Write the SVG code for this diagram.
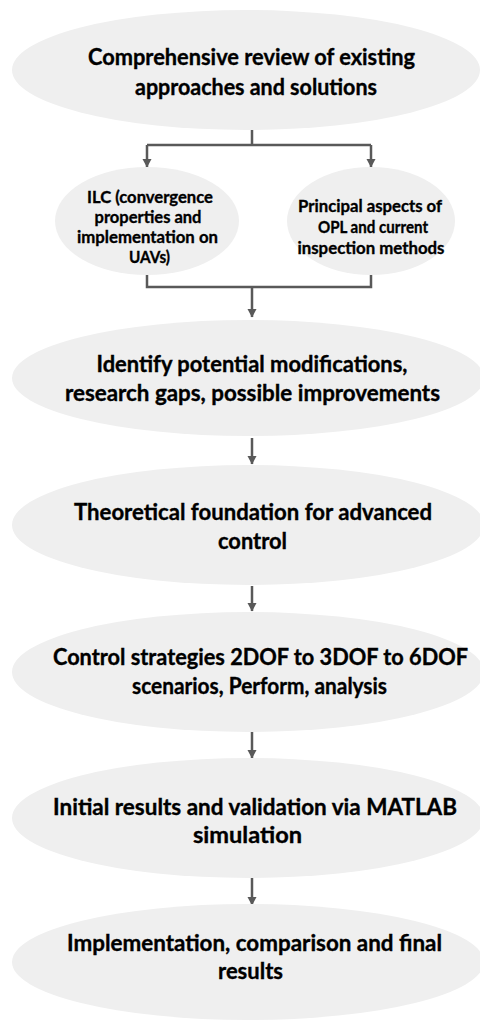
<svg xmlns="http://www.w3.org/2000/svg" width="480" height="1023" viewBox="0 0 480 1023">
<defs>
<marker id="ah" markerWidth="10" markerHeight="10" refX="8" refY="5" orient="auto" markerUnits="userSpaceOnUse">
<path d="M0,0.5 L8.5,5 L0,9.5 Z" fill="#595959"/>
</marker>
<style>
.n{fill:#efefef;}
.t{font-family:Lato,"Liberation Sans",sans-serif;font-weight:bold;fill:#000;stroke:#000;stroke-width:0.35;text-anchor:middle;}
.b{font-size:22px;}
.s{font-size:17px;}
.c{fill:none;stroke:#595959;stroke-width:2.5;}
</style>
</defs>
<rect width="480" height="1023" fill="#fff"/>
<g id="connectors">
<path class="c" d="M252,130 V145 M147,145 H371 M147,145 V167" marker-end="url(#ah)"/>
<path class="c" d="M371,145 V167" marker-end="url(#ah)"/>
<path class="c" d="M147,275 V287 H371 V275 M252,287 V317" marker-end="url(#ah)"/>
<path class="c" d="M252,438 V464" marker-end="url(#ah)"/>
<path class="c" d="M252,586 V611" marker-end="url(#ah)"/>
<path class="c" d="M252,732 V758" marker-end="url(#ah)"/>
<path class="c" d="M252,878 V905" marker-end="url(#ah)"/>
</g>
<g id="n1"><ellipse class="n" cx="246" cy="70" rx="234" ry="60"/>
<text class="t b" x="251.5" y="65" textLength="327" lengthAdjust="spacingAndGlyphs">Comprehensive review of existing</text>
<text class="t b" x="256" y="95" textLength="242" lengthAdjust="spacingAndGlyphs">approaches and solutions</text></g>
<g id="n2"><ellipse class="n" cx="147" cy="221" rx="92" ry="54"/>
<text class="t s" x="150" y="203" textLength="126" lengthAdjust="spacingAndGlyphs">ILC (convergence</text>
<text class="t s" x="148" y="223" textLength="107" lengthAdjust="spacingAndGlyphs">properties and</text>
<text class="t s" x="147.5" y="243" textLength="141" lengthAdjust="spacingAndGlyphs">implementation on</text>
<text class="t s" x="149.5" y="263" textLength="41" lengthAdjust="spacingAndGlyphs">UAVs)</text></g>
<g id="n3"><ellipse class="n" cx="371" cy="221" rx="84" ry="54"/>
<text class="t s" x="370" y="212" textLength="144" lengthAdjust="spacingAndGlyphs">Principal aspects of</text>
<text class="t s" x="373" y="233" textLength="110" lengthAdjust="spacingAndGlyphs">OPL and current</text>
<text class="t s" x="371" y="254" textLength="147" lengthAdjust="spacingAndGlyphs">inspection methods</text></g>
<g id="n4"><ellipse class="n" cx="248" cy="378" rx="236" ry="58"/>
<text class="t b" x="252" y="372" textLength="311" lengthAdjust="spacingAndGlyphs">Identify potential modifications,</text>
<text class="t b" x="252.5" y="401" textLength="375" lengthAdjust="spacingAndGlyphs">research gaps, possible improvements</text></g>
<g id="n5"><ellipse class="n" cx="248" cy="525" rx="236" ry="60"/>
<text class="t b" x="253" y="520" textLength="358" lengthAdjust="spacingAndGlyphs">Theoretical foundation for advanced</text>
<text class="t b" x="252.5" y="549" textLength="69" lengthAdjust="spacingAndGlyphs">control</text></g>
<g id="n6"><ellipse class="n" cx="248" cy="672" rx="236" ry="60"/>
<text class="t b" x="260.5" y="665" textLength="415" lengthAdjust="spacingAndGlyphs">Control strategies 2DOF to 3DOF to 6DOF</text>
<text class="t b" x="259.5" y="694" textLength="255" lengthAdjust="spacingAndGlyphs">scenarios, Perform, analysis</text></g>
<g id="n7"><ellipse class="n" cx="248" cy="818" rx="236" ry="60"/>
<text class="t b" x="255" y="815" textLength="404" lengthAdjust="spacingAndGlyphs">Initial results and validation via MATLAB</text>
<text class="t b" x="247.5" y="843" textLength="109" lengthAdjust="spacingAndGlyphs">simulation</text></g>
<g id="n8"><ellipse class="n" cx="248" cy="962" rx="236" ry="58"/>
<text class="t b" x="254.5" y="951" textLength="375" lengthAdjust="spacingAndGlyphs">Implementation, comparison and final</text>
<text class="t b" x="250.5" y="979" textLength="65" lengthAdjust="spacingAndGlyphs">results</text></g>
</svg>
